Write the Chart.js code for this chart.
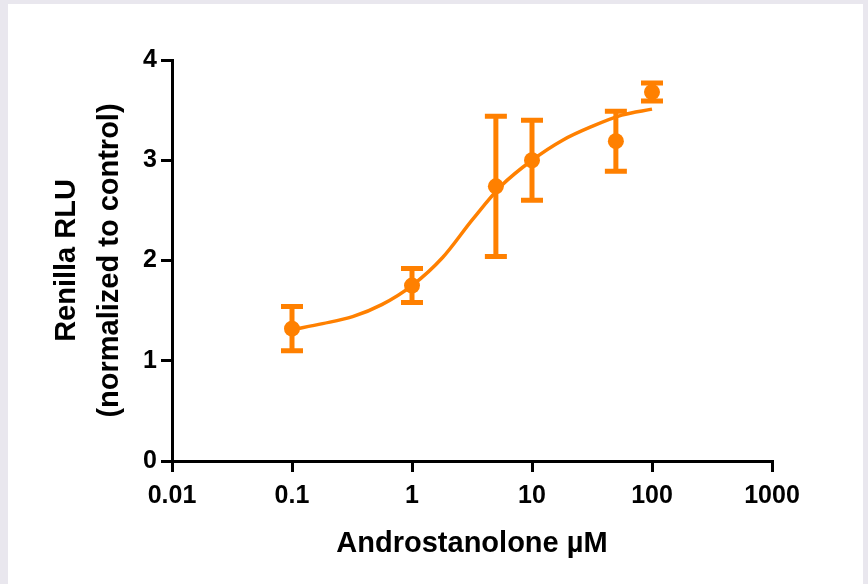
<!DOCTYPE html>
<html>
<head>
<meta charset="utf-8">
<script src="https://cdn.jsdelivr.net/npm/chart.js@4"></script>
<style>
  html, body { margin: 0; padding: 0; background: #e9e7ee; }
  #panel { position: absolute; left: 8px; top: 4px; width: 855px; height: 580px; background: #fff; }
  canvas { display: block; }
</style>
</head>
<body>
<div id="panel"><canvas id="doseChart" width="855" height="580"></canvas></div>
<script>
// measured points (mean +/- error)
const doseX = [0.1, 1, 5, 10, 50, 100];
const doseY = [1.32, 1.75, 2.74, 3.0, 3.19, 3.68];
const doseErr = [0.22, 0.17, 0.70, 0.40, 0.30, 0.09];

// fitted curve
const curveX = [0.1, 0.18, 0.32, 0.56, 1, 1.8, 3.2, 5.6, 10, 18, 32, 56, 100];
const curveY = [1.31, 1.37, 1.44, 1.56, 1.75, 2.03, 2.41, 2.75, 3.0, 3.2, 3.34, 3.45, 3.51];

const xTicks = [0.01, 0.1, 1, 10, 100, 1000];
const xTickLabels = ['0.01', '0.1', '1', '10', '100', '1000'];
const yTicks = [0, 1, 2, 3, 4];

const orange = '#ff8000';
const tickFont = { family: 'Liberation Sans', size: 25, weight: 'bold' };
const titleFont = { family: 'Liberation Sans', size: 29, weight: 'bold' };

const errorBars = {
    id: 'errorBars',
    afterDatasetsDraw(chart) {
        const ctx = chart.ctx;
        const xs = chart.scales.x;
        const ys = chart.scales.y;
        ctx.save();
        ctx.strokeStyle = orange;
        ctx.lineWidth = 5;
        doseX.forEach((v, i) => {
            const px = xs.getPixelForValue(v);
            const top = ys.getPixelForValue(doseY[i] + doseErr[i]);
            const bot = ys.getPixelForValue(doseY[i] - doseErr[i]);
            ctx.beginPath();
            ctx.moveTo(px, top);
            ctx.lineTo(px, bot);
            ctx.moveTo(px - 11, top);
            ctx.lineTo(px + 11, top);
            ctx.moveTo(px - 11, bot);
            ctx.lineTo(px + 11, bot);
            ctx.stroke();
        });
        ctx.restore();
    }
};

new Chart(document.getElementById('doseChart'), {
    type: 'line',
    data: {
        datasets: [{
            label: 'fit',
            data: curveX.map((x, i) => ({ x: x, y: curveY[i] })),
            borderColor: orange,
            borderWidth: 3.5,
            pointRadius: 0,
            cubicInterpolationMode: 'monotone',
            fill: false
        }, {
            label: 'data',
            data: doseX.map((x, i) => ({ x: x, y: doseY[i] })),
            showLine: false,
            pointStyle: 'circle',
            pointRadius: 8,
            pointBackgroundColor: orange,
            pointBorderColor: orange,
            pointBorderWidth: 0
        }]
    },
    options: {
        responsive: false,
        animation: false,
        layout: { padding: { top: 56, right: 91, left: 0, bottom: 0 } },
        plugins: { legend: { display: false }, tooltip: { enabled: false } },
        scales: {
            x: {
                type: 'logarithmic',
                min: 0.01,
                max: 1000,
                afterBuildTicks: (scale) => { scale.ticks = xTicks.map(v => ({ value: v })); },
                afterFit: (scale) => { scale.height = 123; },
                ticks: {
                    autoSkip: false,
                    maxRotation: 0,
                    padding: 9,
                    color: '#000',
                    font: tickFont,
                    callback: (v, i) => xTickLabels[i]
                },
                grid: { display: true, drawOnChartArea: false, drawTicks: true, tickLength: 11, color: '#000', lineWidth: 3 },
                border: { display: true, color: '#000', width: 3 },
                title: {
                    display: true,
                    text: 'Androstanolone µM',
                    color: '#000',
                    font: titleFont,
                    padding: { top: 0, bottom: 23 }
                }
            },
            y: {
                min: 0,
                max: 4,
                afterBuildTicks: (scale) => { scale.ticks = yTicks.map(v => ({ value: v })); },
                afterFit: (scale) => { scale.width = 164; },
                ticks: { padding: 4, color: '#000', font: tickFont },
                grid: { display: true, drawOnChartArea: false, drawTicks: true, tickLength: 11, color: '#000', lineWidth: 3 },
                border: { display: true, color: '#000', width: 3 },
                title: {
                    display: true,
                    text: ['Renilla RLU', '(normalized to control)'],
                    color: '#000',
                    font: { family: 'Liberation Sans', size: 29, weight: 'bold', lineHeight: 1.48 },
                    padding: { top: 38, bottom: 0 }
                }
            }
        }
    },
    plugins: [errorBars]
});
</script>
</body>
</html>
